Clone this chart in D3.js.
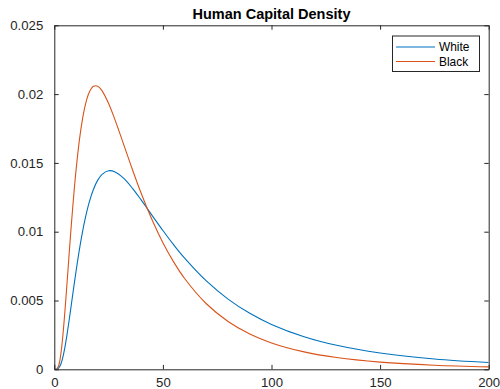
<!DOCTYPE html>
<html>
<head>
<meta charset="utf-8">
<script src="https://cdn.jsdelivr.net/npm/d3@7"></script>
<style>
  html, body { margin: 0; padding: 0; background: #fff; }
  svg { display: block; font-family: "Liberation Sans", Arial, Helvetica, sans-serif; }
</style>
</head>
<body>
<svg id="chart" width="500" height="389"></svg>
<script>
// Human capital levels (x) and density values for each group
const xValues = [0, 1, 2, 3, 4, 5, 6, 7, 8, 10, 12, 14, 16, 18, 20, 22, 25, 28, 32, 36, 40, 45, 50, 55, 60, 70, 80, 90, 100, 115, 130, 150, 175, 200];
const whiteDensity = [0, 0.000002, 0.000079, 0.000363, 0.000912, 0.001702, 0.002672, 0.003750, 0.004879, 0.007108, 0.009110, 0.010779, 0.012092, 0.013069, 0.013746, 0.014170, 0.014429, 0.014342, 0.013871, 0.013152, 0.012308, 0.011189, 0.010084, 0.009038, 0.008076, 0.006420, 0.005104, 0.004071, 0.003264, 0.002368, 0.001742, 0.001181, 0.000749, 0.000489];
const blackDensity = [0, 0.000012, 0.000262, 0.001097, 0.002548, 0.004444, 0.006566, 0.008737, 0.010823, 0.014459, 0.017187, 0.019026, 0.020098, 0.020563, 0.020567, 0.020235, 0.019319, 0.018110, 0.016312, 0.014500, 0.012790, 0.010866, 0.009204, 0.007791, 0.006601, 0.004765, 0.003477, 0.002566, 0.001917, 0.001264, 0.000853, 0.000522, 0.000295, 0.000175];
const seriesNames = ["White", "Black"];
const seriesColors = ["#0072BD", "#D95319"];
const xTicks = [0, 50, 100, 150, 200];
const yTicks = [0, 0.005, 0.01, 0.015, 0.02, 0.025];
const titleText = "Human Capital Density";

const svg = d3.select("#chart");
const plotLeft = 54.3, plotRight = 488.7, plotTop = 25.3, plotBottom = 369.3;
const axisColor = "#262626";
const tickLen = 4.4;

const x = d3.scaleLinear().domain([0, 200]).range([plotLeft, plotRight]);
const y = d3.scaleLinear().domain([0, 0.025]).range([plotBottom, plotTop]);

// Title
svg.append("text")
  .attr("x", (plotLeft + plotRight) / 2)
  .attr("y", 19)
  .attr("text-anchor", "middle")
  .attr("font-size", 14.5)
  .attr("font-weight", "bold")
  .attr("fill", "#000")
  .text(titleText);

// Curves
const series = [whiteDensity, blackDensity];
const line = d3.line()
  .x((d, i) => x(xValues[i]))
  .y(d => y(d))
  .curve(d3.curveCatmullRom.alpha(0.5));

const plot = svg.append("g");
plot.append("clipPath").attr("id", "clip")
  .append("rect").attr("x", plotLeft).attr("y", plotTop)
  .attr("width", plotRight - plotLeft).attr("height", plotBottom - plotTop);
series.forEach((vals, k) => {
  plot.append("path")
    .datum(vals)
    .attr("d", line)
    .attr("fill", "none")
    .attr("stroke", seriesColors[k])
    .attr("stroke-width", 1.1)
    .attr("clip-path", "url(#clip)");
});

// Box axes with inward ticks on all sides
const axes = svg.append("g");
const xBottom = d3.axisBottom(x).tickValues(xTicks).tickSizeInner(-tickLen).tickSizeOuter(0).tickPadding(8).tickFormat(d3.format("d"));
const xTop = d3.axisTop(x).tickValues(xTicks).tickSizeInner(-tickLen).tickSizeOuter(0).tickFormat("");
const yLeft = d3.axisLeft(y).tickValues(yTicks).tickSizeInner(-tickLen).tickSizeOuter(0).tickPadding(11).tickFormat(d => d === 0 ? "0" : String(+d.toFixed(3)));
const yRight = d3.axisRight(y).tickValues(yTicks).tickSizeInner(-tickLen).tickSizeOuter(0).tickFormat("");

function styleAxis(g) {
  g.selectAll("path.domain").attr("stroke", axisColor).attr("stroke-width", 1);
  g.selectAll(".tick line").attr("stroke", axisColor).attr("stroke-width", 1);
  g.selectAll(".tick text").attr("fill", axisColor).attr("font-size", 13.2)
    .attr("font-family", "Liberation Sans, Arial, Helvetica, sans-serif");
}

axes.append("g").attr("transform", `translate(0,${plotBottom})`).call(xBottom).call(styleAxis);
axes.append("g").attr("transform", `translate(0,${plotTop})`).call(xTop).call(styleAxis);
axes.append("g").attr("transform", `translate(${plotLeft},0)`).call(yLeft).call(styleAxis);
axes.append("g").attr("transform", `translate(${plotRight},0)`).call(yRight).call(styleAxis);

// Legend
const lg = svg.append("g");
const lgX = 392, lgY = 35.5, lgW = 87, lgH = 35.5;
lg.append("rect")
  .attr("x", lgX + 0.5).attr("y", lgY + 0.5)
  .attr("width", lgW).attr("height", lgH)
  .attr("fill", "#fff").attr("stroke", axisColor).attr("stroke-width", 1);
seriesNames.forEach((name, k) => {
  const cy = 47 + k * 14.5;
  lg.append("line")
    .attr("x1", 396).attr("x2", 435)
    .attr("y1", cy).attr("y2", cy)
    .attr("stroke", seriesColors[k]).attr("stroke-width", 1.1);
  lg.append("text")
    .attr("x", 439).attr("y", cy + 4.2)
    .attr("font-size", 11.9).attr("fill", "#000")
    .text(name);
});
</script>
</body>
</html>
